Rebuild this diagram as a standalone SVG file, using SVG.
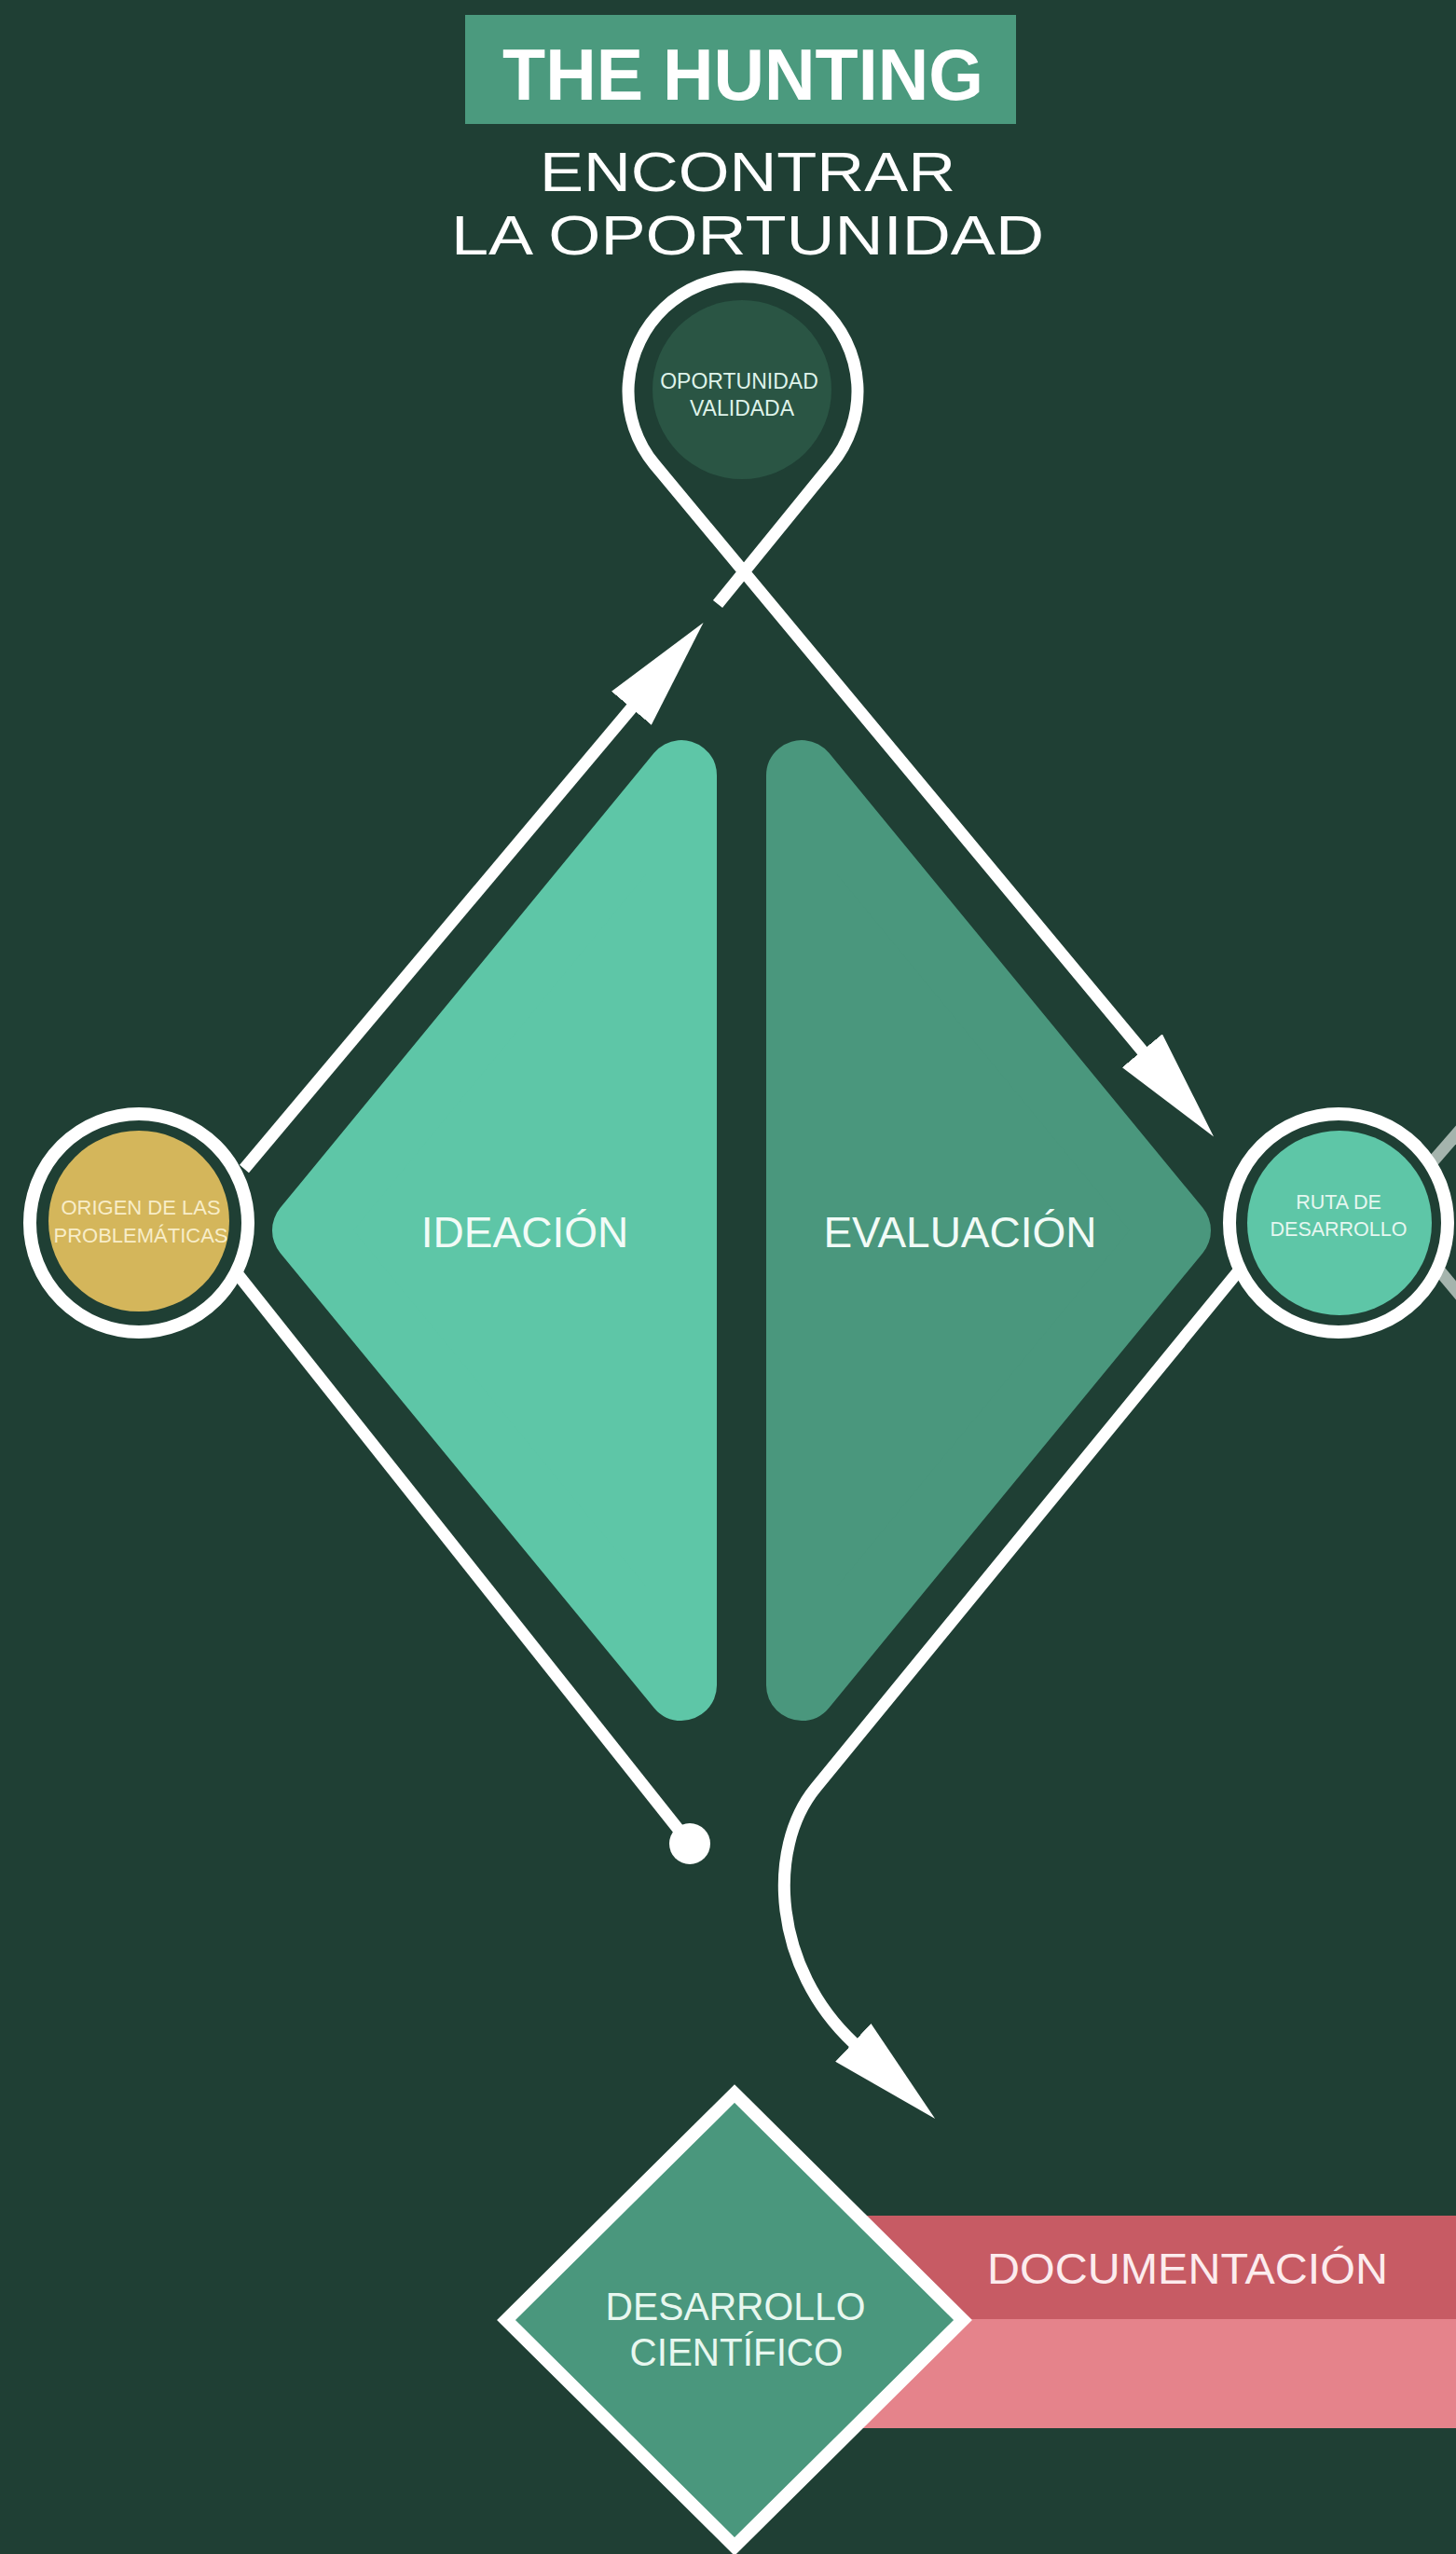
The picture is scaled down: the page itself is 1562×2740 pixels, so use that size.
<svg xmlns="http://www.w3.org/2000/svg" width="1562" height="2740" viewBox="0 0 1562 2740">
<style>
.line{fill:none;stroke:#ffffff;stroke-width:13;stroke-linecap:butt;stroke-linejoin:round}
.gray{fill:none;stroke:#a5b4ad;stroke-width:13}
.ring{fill:#1f3f34;stroke:#ffffff;stroke-width:14}
.lbl{font-family:"Liberation Sans",Arial,sans-serif;text-anchor:middle}
.big{font-family:"Liberation Sans",Arial,sans-serif;text-anchor:middle;fill:#f2fbf7}
</style>
<defs>
<marker id="ah" markerUnits="userSpaceOnUse" viewBox="0 0 120 56" markerWidth="120" markerHeight="56" refX="1" refY="28" orient="auto">
<path d="M0,0 L120,28 L0,56 z" fill="#ffffff"/>
</marker>
</defs>
<rect x="0" y="0" width="1562" height="2740" fill="#1f3f34"/>

<g id="title">
<rect x="499" y="16" width="591" height="117" fill="#4b9a7e"/>
<text x="797" y="107" class="lbl" font-size="77" font-weight="bold" fill="#ffffff" textLength="516" lengthAdjust="spacingAndGlyphs">THE HUNTING</text>
<text x="802" y="205" class="lbl" font-size="60" fill="#ffffff" textLength="446" lengthAdjust="spacingAndGlyphs">ENCONTRAR</text>
<text x="802" y="273" class="lbl" font-size="60" fill="#ffffff" textLength="636" lengthAdjust="spacingAndGlyphs">LA OPORTUNIDAD</text>
</g>

<g id="ideacion">
<polygon points="330,1320 731,832 731,1808" fill="#5ec6a7" stroke="#5ec6a7" stroke-width="76" stroke-linejoin="round"/>
<text x="563" y="1338" class="big" font-size="46">IDEACIÓN</text>
</g>
<g id="evaluacion">
<polygon points="1261,1320 860,832 860,1808" fill="#4a977d" stroke="#4a977d" stroke-width="76" stroke-linejoin="round"/>
<text x="1030" y="1338" class="big" font-size="46">EVALUACIÓN</text>
</g>

<g id="documentacion">
<rect x="900" y="2377" width="662" height="112" fill="#c75b64"/>
<rect x="900" y="2488" width="662" height="117" fill="#e5838b"/>
<text x="1274" y="2450" class="lbl" font-size="47" fill="#fcecee" textLength="430" lengthAdjust="spacingAndGlyphs">DOCUMENTACIÓN</text>
</g>

<g id="connectors">
<path class="line" d="M262,1254 L678,759" marker-end="url(#ah)"/>
<path class="line" d="M770,648 L892,498 A123,123 0 1 0 702,498 L1226,1128" marker-end="url(#ah)"/>
<path class="line" d="M255,1367 L740,1978"/>
<circle cx="740" cy="1978" r="22" fill="#ffffff"/>
<path class="line" d="M1330,1362 L875,1918 C821,1984 830,2112 916,2192" marker-end="url(#ah)"/>
<path class="gray" d="M1525,1260 L1610,1162"/>
<path class="gray" d="M1535,1352 L1610,1442"/>
</g>

<g id="oportunidad-validada">
<circle cx="796" cy="418" r="96" fill="#2a5544"/>
<text x="793" y="417" class="lbl" font-size="23" fill="#dff3ea">OPORTUNIDAD</text>
<text x="796" y="446" class="lbl" font-size="23" fill="#dff3ea">VALIDADA</text>
</g>

<g id="origen">
<circle class="ring" cx="149" cy="1312" r="117"/>
<circle cx="149" cy="1310" r="97" fill="#d4b65b"/>
<text x="151" y="1303" class="lbl" font-size="22" fill="#f8edc8">ORIGEN DE LAS</text>
<text x="151" y="1333" class="lbl" font-size="22" fill="#f8edc8">PROBLEMÁTICAS</text>
</g>

<g id="ruta">
<circle class="ring" cx="1436" cy="1312" r="117"/>
<circle cx="1437" cy="1312" r="99" fill="#5ec6a7"/>
<text x="1436" y="1297" class="lbl" font-size="21.5" fill="#e6f7f0">RUTA DE</text>
<text x="1436" y="1326" class="lbl" font-size="21.5" fill="#e6f7f0">DESARROLLO</text>
</g>

<g id="desarrollo-cientifico">
<polygon points="788,2246 1033,2489 788,2732 543,2489" fill="#4a977d" stroke="#ffffff" stroke-width="14"/>
<text x="789" y="2489" class="lbl" font-size="43" fill="#e8f7ef" textLength="279" lengthAdjust="spacingAndGlyphs">DESARROLLO</text>
<text x="790" y="2538" class="lbl" font-size="43" fill="#e8f7ef" textLength="229" lengthAdjust="spacingAndGlyphs">CIENTÍFICO</text>
</g>
</svg>
